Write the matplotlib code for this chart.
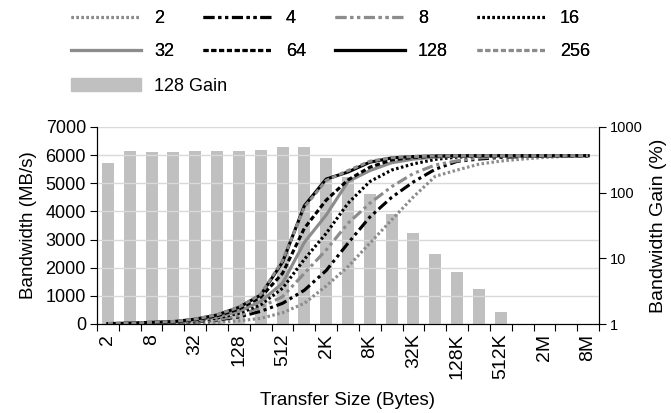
import numpy as np
import matplotlib
matplotlib.use('Agg')
import matplotlib.pyplot as plt
from matplotlib.patches import Patch

plt.rcParams['font.family'] = ['Liberation Sans', 'DejaVu Sans']
plt.rcParams['font.size'] = 13

# Transfer sizes (categories)
sizes = ['2', '4', '8', '16', '32', '64', '128', '256', '512', '1K', '2K', '4K',
         '8K', '16K', '32K', '64K', '128K', '256K', '512K', '1M', '2M', '4M', '8M']

# Bandwidth (MB/s) per batch size
bw_2 = [3, 6, 12, 25, 45, 60, 110, 200, 400, 735, 1350, 2040, 2870, 3700, 4520,
        5250, 5470, 5680, 5790, 5860, 5920, 5960, 5980]
bw_4 = [5, 10, 20, 40, 75, 140, 250, 450, 735, 1200, 1900, 2870, 3800, 4500, 5050,
        5500, 5780, 5860, 5920, 5950, 5970, 5980, 5980]
bw_8 = [6, 12, 25, 45, 85, 160, 290, 600, 970, 1800, 2630, 3580, 4290, 4880, 5350,
        5650, 5800, 5900, 5950, 5970, 5980, 5980, 5980]
bw_16 = [8, 16, 32, 60, 110, 210, 380, 680, 1270, 2300, 3220, 4290, 5060, 5470, 5690,
         5850, 5930, 5960, 5975, 5980, 5980, 5980, 5980]
bw_32 = [10, 20, 40, 70, 130, 250, 450, 800, 1450, 2900, 3870, 5060, 5450, 5730, 5860,
         5930, 5960, 5975, 5980, 5980, 5980, 5980, 5980]
bw_64 = [12, 25, 50, 80, 150, 290, 530, 950, 1800, 3400, 4400, 5120, 5570, 5830, 5920,
         5960, 5975, 5980, 5980, 5980, 5980, 5980, 5980]
bw_128 = [15, 30, 60, 85, 170, 320, 590, 1030, 2200, 4200, 5150, 5400, 5750, 5900, 5950,
          5970, 5980, 5980, 5980, 5980, 5980, 5980, 5980]
bw_256 = [15, 30, 60, 90, 175, 330, 600, 1050, 2250, 4150, 5100, 5450, 5780, 5910, 5950,
          5970, 5980, 5980, 5980, 5980, 5980, 5980, 5980]

# Bandwidth gain of batch 128 (%), log axis; 0 = no bar
gain_128 = [282, 425, 415, 415, 435, 435, 430, 440, 490, 495, 333, 175, 95, 47, 24,
            11.6, 6.25, 3.44, 1.51, 0, 0, 0, 0]

x = np.arange(len(sizes))

fig = plt.figure(figsize=(6.71, 4.13), dpi=100)
ax = fig.add_axes([97/671, 1 - 324/413, (599 - 97)/671, (324 - 127)/413])
ax2 = ax.twinx()

# bars behind lines
gain = np.array(gain_128, dtype=float)
mask = gain > 0
ax2.bar(x[mask], gain[mask], width=0.55, color='#c0c0c0', label='128 Gain')
ax2.set_yscale('log')
ax2.set_ylim(1, 1000)
ax2.set_yticks([1, 10, 100, 1000])
ax2.set_yticklabels(['1', '10', '100', '1000'])
ax2.yaxis.set_minor_locator(matplotlib.ticker.NullLocator())
ax2.set_ylabel('Bandwidth Gain (%)', fontsize=14, labelpad=5)

ax.set_zorder(ax2.get_zorder() + 1)
ax.patch.set_visible(False)

grey = '#8c8c8c'
lw = 2.25
dashdotdot = (0, (3.5, 1.2, 1, 1.2, 1, 1.2))
dotted = (0, (0.8, 0.8))
dashed = (0, (1.6, 0.9))

l2, = ax.plot(x, bw_2, color=grey, lw=lw, ls=dotted, label='2')
l4, = ax.plot(x, bw_4, color='black', lw=lw, ls=dashdotdot, label='4')
l8, = ax.plot(x, bw_8, color=grey, lw=lw, ls=dashdotdot, label='8')
l16, = ax.plot(x, bw_16, color='black', lw=lw, ls=dotted, label='16')
l32, = ax.plot(x, bw_32, color=grey, lw=lw, ls='-', label='32')
l64, = ax.plot(x, bw_64, color='black', lw=lw, ls=dashed, label='64')
l128, = ax.plot(x, bw_128, color='black', lw=lw, ls='-', label='128')
l256, = ax.plot(x, bw_256, color=grey, lw=lw, ls=dashed, label='256')

ax.set_xlim(-0.5, len(sizes) - 0.5)
ax.set_ylim(0, 7000)
ax.set_yticks(range(0, 7001, 1000))
ax.yaxis.grid(True, color='#d9d9d9', lw=1)
ax.set_axisbelow(True)

# category boundaries as ticks, labels on every other category
ax.set_xticks(np.arange(-0.5, len(sizes)))
ax.set_xticklabels([])
ax.set_xticks(x[::2], minor=True)
ax.set_xticklabels(sizes[::2], minor=True, rotation=90, fontsize=14)
ax.tick_params(axis='x', which='minor', length=0, pad=7)
ax.tick_params(axis='x', which='major', length=5, direction='out')
ax.tick_params(axis='y', length=5, direction='out', pad=3)
ax2.tick_params(axis='y', length=5, direction='out', labelsize=10.5, pad=3)

for a in (ax, ax2):
    a.spines['top'].set_visible(False)
    a.spines['left'].set_color('black')
    a.spines['right'].set_color('black')
    a.spines['bottom'].set_color('black')

ax.set_ylabel('Bandwidth (MB/s)', fontsize=13.5, labelpad=6)
ax.set_xlabel('Transfer Size (Bytes)', fontsize=13.5, labelpad=9)

# legends above the plot
leg1 = fig.legend([l2, l32, l4, l64, l8, l128, l16, l256],
                  ['2', '32', '4', '64', '8', '128', '16', '256'],
                  ncol=4, loc='upper left', bbox_to_anchor=(71/671, 1 - 10/413),
                  frameon=False, handlelength=3.9, handletextpad=0.7, fontsize=13,
                  columnspacing=1.6, labelspacing=0.9, borderpad=0, borderaxespad=0)
fig.add_artist(leg1)
fig.legend([Patch(color='#c0c0c0')], ['128 Gain'], loc='upper left',
           bbox_to_anchor=(71/671, 1 - 78/413), frameon=False, handlelength=3.9,
           handletextpad=0.7, fontsize=13, borderpad=0, borderaxespad=0)

fig.savefig('out.png', dpi=100)
